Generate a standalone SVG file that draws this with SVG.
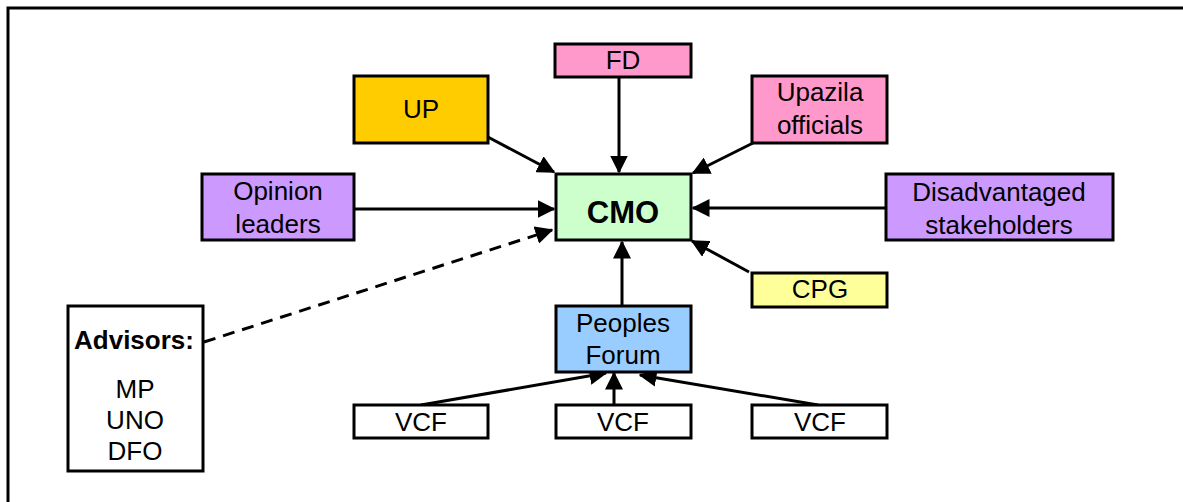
<svg xmlns="http://www.w3.org/2000/svg" width="1183" height="502" viewBox="0 0 1183 502">
<style>
.box{stroke:#000;stroke-width:3}
.t{font-family:"Liberation Sans",Arial,sans-serif;font-size:26px;text-anchor:middle;fill:#000}
.b{font-weight:bold}
.c{stroke:#000;stroke-width:3;fill:none}
</style>
<defs>
<marker id="ah" markerWidth="6" markerHeight="6" refX="5.5" refY="3" orient="auto" markerUnits="strokeWidth">
<path d="M0,0 L6,3 L0,6 z" fill="#000"/>
</marker>
</defs>
<rect width="1183" height="502" fill="#fff"/>
<path d="M8,510 V8 H1190" fill="none" stroke="#000" stroke-width="3"/>
<g id="connectors">
<line class="c" x1="486" y1="136" x2="554" y2="172" marker-end="url(#ah)"/>
<line class="c" x1="619" y1="77" x2="619" y2="172" marker-end="url(#ah)"/>
<line class="c" x1="753" y1="143" x2="693" y2="173" marker-end="url(#ah)"/>
<line class="c" x1="354" y1="209" x2="554" y2="209" marker-end="url(#ah)"/>
<line class="c" x1="886" y1="208" x2="693" y2="208" marker-end="url(#ah)"/>
<line class="c" x1="749" y1="272" x2="692" y2="241" marker-end="url(#ah)"/>
<line class="c" x1="622" y1="306" x2="622" y2="242" marker-end="url(#ah)"/>
<line class="c" x1="204" y1="342" x2="552" y2="230" stroke-dasharray="12,8" marker-end="url(#ah)"/>
<line class="c" x1="421" y1="405" x2="606" y2="373" marker-end="url(#ah)"/>
<line class="c" x1="614" y1="405" x2="614" y2="373" marker-end="url(#ah)"/>
<line class="c" x1="818" y1="405" x2="640" y2="375" marker-end="url(#ah)"/>
</g>
<g id="fd"><rect class="box" x="555" y="44" width="136" height="33" fill="#FF99CC"/><text class="t" x="623" y="69">FD</text></g>
<g id="up"><rect class="box" x="354" y="76" width="134" height="67" fill="#FFCC00"/><text class="t" x="421" y="118">UP</text></g>
<g id="upazila"><rect class="box" x="752" y="76" width="135" height="67" fill="#FF99CC"/><text class="t" x="820" y="101">Upazila</text><text class="t" x="820" y="134">officials</text></g>
<g id="opinion"><rect class="box" x="202" y="174" width="152" height="66" fill="#CC99FF"/><text class="t" x="278" y="200">Opinion</text><text class="t" x="278" y="233">leaders</text></g>
<g id="cmo"><rect class="box" x="556" y="174" width="135" height="66" fill="#CCFFCC"/><text class="t b" x="623" y="223" style="font-size:31px">CMO</text></g>
<g id="disadvantaged"><rect class="box" x="886" y="174" width="227" height="66" fill="#CC99FF"/><text class="t" x="999" y="201">Disadvantaged</text><text class="t" x="999" y="234">stakeholders</text></g>
<g id="cpg"><rect class="box" x="752" y="273" width="135" height="34" fill="#FFFF99"/><text class="t" x="820" y="298">CPG</text></g>
<g id="forum"><rect class="box" x="556" y="306" width="135" height="66" fill="#99CCFF"/><text class="t" x="623" y="332">Peoples</text><text class="t" x="623" y="364">Forum</text></g>
<g id="vcf1"><rect class="box" x="354" y="405" width="134" height="33" fill="#fff"/><text class="t" x="421" y="431">VCF</text></g>
<g id="vcf2"><rect class="box" x="556" y="405" width="135" height="33" fill="#fff"/><text class="t" x="623" y="431">VCF</text></g>
<g id="vcf3"><rect class="box" x="752" y="405" width="135" height="33" fill="#fff"/><text class="t" x="820" y="431">VCF</text></g>
<g id="advisors"><rect class="box" x="68" y="306" width="135" height="165" fill="#fff"/><text class="t b" x="134" y="349">Advisors:</text><text class="t" x="135" y="398">MP</text><text class="t" x="135" y="429">UNO</text><text class="t" x="135" y="460">DFO</text></g>
</svg>
